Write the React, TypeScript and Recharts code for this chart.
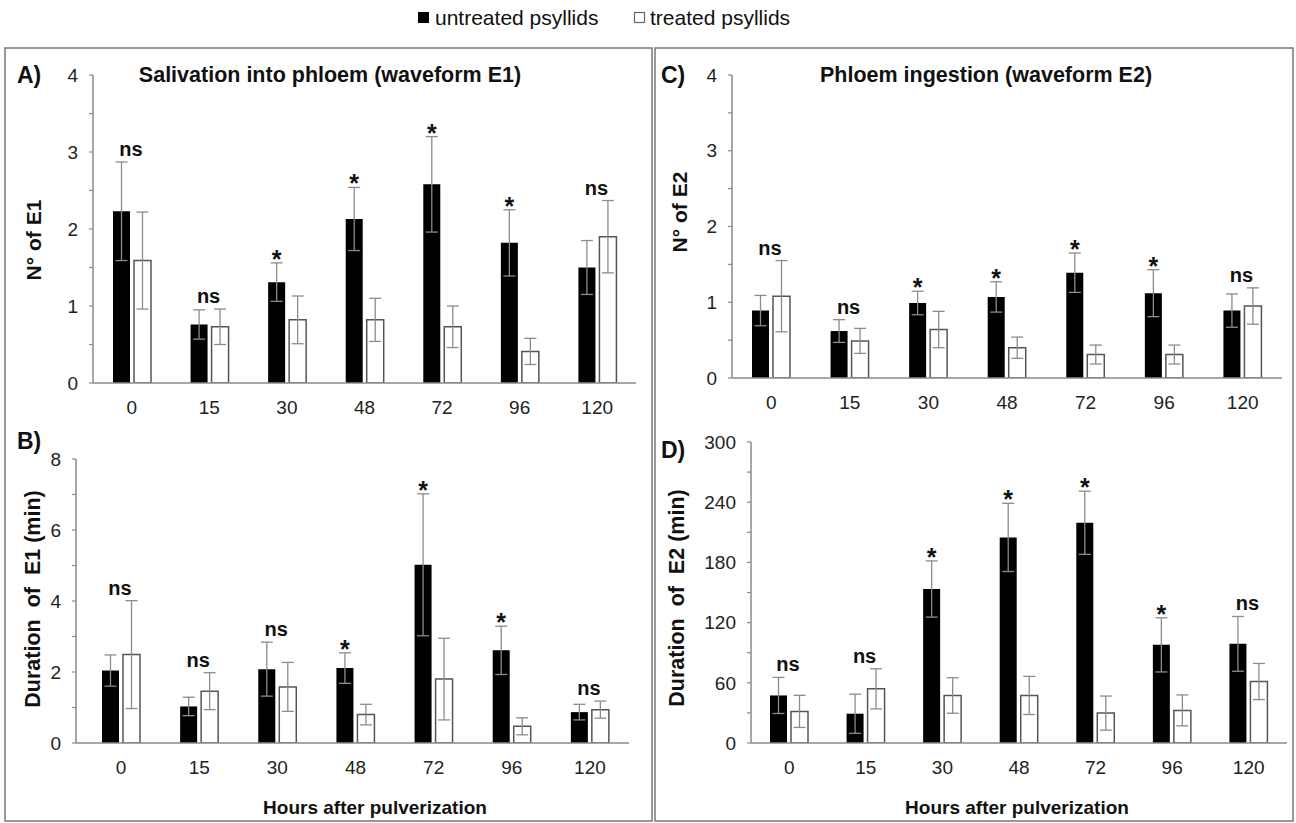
import { BarChart, Bar, XAxis, YAxis, ErrorBar, LabelList } from 'recharts';

const hours = ['0', '15', '30', '48', '72', '96', '120'];
const seriesNames = ['untreated psyllids', 'treated psyllids'];

// A) number of E1 events
const e1CountUntreated = [2.23, 0.76, 1.31, 2.13, 2.58, 1.82, 1.5];
const e1CountUntreatedErr = [0.64, 0.19, 0.25, 0.41, 0.62, 0.43, 0.35];
const e1CountTreated = [1.59, 0.73, 0.82, 0.82, 0.73, 0.41, 1.9];
const e1CountTreatedErr = [0.63, 0.23, 0.31, 0.28, 0.27, 0.17, 0.47];
const e1CountSig = ['ns', 'ns', '*', '*', '*', '*', 'ns'];

// B) duration of E1 (min)
const e1DurUntreated = [2.04, 1.03, 2.08, 2.11, 5.02, 2.61, 0.87];
const e1DurUntreatedErr = [0.44, 0.26, 0.76, 0.43, 2.0, 0.68, 0.22];
const e1DurTreated = [2.49, 1.46, 1.58, 0.8, 1.8, 0.47, 0.94];
const e1DurTreatedErr = [1.52, 0.52, 0.69, 0.29, 1.15, 0.24, 0.24];
const e1DurSig = ['ns', 'ns', 'ns', '*', '*', '*', 'ns'];

// C) number of E2 events
const e2CountUntreated = [0.89, 0.62, 0.99, 1.07, 1.39, 1.12, 0.89];
const e2CountUntreatedErr = [0.2, 0.15, 0.155, 0.2, 0.26, 0.31, 0.22];
const e2CountTreated = [1.08, 0.49, 0.64, 0.4, 0.31, 0.31, 0.95];
const e2CountTreatedErr = [0.47, 0.165, 0.24, 0.14, 0.125, 0.125, 0.24];
const e2CountSig = ['ns', 'ns', '*', '*', '*', '*', 'ns'];

// D) duration of E2 (min)
const e2DurUntreated = [47.4, 29.2, 153.5, 204.9, 219.5, 97.8, 98.8];
const e2DurUntreatedErr = [18, 19.5, 28, 34, 31.5, 27, 27.3];
const e2DurTreated = [31.5, 54, 47.4, 47.4, 29.8, 32.5, 61.3];
const e2DurTreatedErr = [16, 20, 17.7, 19, 17, 15.4, 18];
const e2DurSig = ['ns', 'ns', '*', '*', '*', '*', 'ns'];

const ticksHalf4 = [0, 0.5, 1, 1.5, 2, 2.5, 3, 3.5, 4];
const ticks8 = [0, 1, 2, 3, 4, 5, 6, 7, 8];
const ticks300 = [0, 30, 60, 90, 120, 150, 180, 210, 240, 270, 300];

const FONT = '"Liberation Sans", Arial, sans-serif';
const AXIS = '#8a8a8a';
const TEXT = '#222';
const BAR_SIZE = 17;
const BAR_GAP = 4;

type PanelProps = {
  left: number; top: number; width: number; height: number;
  margin: { top: number; right: number; bottom: number; left: number };
  padLeft?: number;
  untreated: number[]; untreatedErr: number[];
  treated: number[]; treatedErr: number[];
  sig: string[];
  domain: [number, number];
  ticks: number[];
  showTick: (v: number) => boolean;
};

function sigLabel(p: PanelProps) {
  return (props: any) => {
    const vb = props.viewBox || {};
    const x = Number(props.x ?? vb.x);
    const y = Number(props.y ?? vb.y);
    const w = Number(props.width ?? vb.width);
    const h = Number(props.height ?? vb.height);
    const i = props.index;
    const v = p.untreated[i];
    if (!v || !isFinite(h)) return null;
    const ppu = h / v;
    const base = y + h;
    const topU = base - (v + p.untreatedErr[i]) * ppu;
    const topT = base - (p.treated[i] + p.treatedErr[i]) * ppu;
    if (p.sig[i] === '*') {
      return (
        <text x={x + w / 2} y={topU + 5} textAnchor="middle" fontSize={25} fontWeight="bold" fill="#111" fontFamily={FONT}>*</text>
      );
    }
    return (
      <text x={x + w + BAR_GAP / 2 - 1} y={Math.min(topU, topT) - 6} textAnchor="middle" fontSize={20} fontWeight="bold" fill="#111" fontFamily={FONT}>ns</text>
    );
  };
}

function Panel(p: PanelProps) {
  const rows = hours.map((h, i) => ({
    hour: h,
    u: p.untreated[i], uErr: p.untreatedErr[i],
    t: p.treated[i], tErr: p.treatedErr[i],
  }));
  return (
    <div style={{ position: 'absolute', left: p.left, top: p.top }}>
      <BarChart width={p.width} height={p.height} data={rows} margin={p.margin}
        barSize={BAR_SIZE} barGap={BAR_GAP}>
        <XAxis dataKey="hour" tickLine={false} tickSize={0} tickMargin={18} height={30}
          padding={{ left: p.padLeft ?? 0, right: 0 }}
          axisLine={{ stroke: AXIS, strokeWidth: 1.5 }}
          tick={{ fill: TEXT, fontSize: 19, fontFamily: FONT }} />
        <YAxis width={60} domain={p.domain} ticks={p.ticks} interval={0} allowDataOverflow
          tickSize={4} tickMargin={11}
          axisLine={{ stroke: AXIS, strokeWidth: 1.5 }}
          tickLine={{ stroke: AXIS, strokeWidth: 1.2 }}
          tickFormatter={(v: number) => (p.showTick(v) ? String(v) : '')}
          tick={{ fill: TEXT, fontSize: 19, fontFamily: FONT }} />
        <Bar dataKey="u" name={seriesNames[0]} fill="#000" isAnimationActive={false}>
          <ErrorBar dataKey="uErr" width={6} stroke="#8c8c8c" strokeWidth={1.3} direction="y" />
          <LabelList dataKey="u" content={sigLabel(p)} />
        </Bar>
        <Bar dataKey="t" name={seriesNames[1]} fill="#fff" stroke="#555" strokeWidth={1.5} isAnimationActive={false}>
          <ErrorBar dataKey="tErr" width={6} stroke="#8c8c8c" strokeWidth={1.3} direction="y" />
        </Bar>
      </BarChart>
    </div>
  );
}

const txt = { fontFamily: FONT, fill: '#111' } as const;

export default function App() {
  return (
    <div style={{ position: 'absolute', left: 0, top: 0, width: 1296, height: 823, background: '#fff', overflow: 'hidden' }}>
      <Panel left={0} top={40} width={650} height={390}
        margin={{ top: 35, right: 14, bottom: 17, left: 33 }}
        untreated={e1CountUntreated} untreatedErr={e1CountUntreatedErr}
        treated={e1CountTreated} treatedErr={e1CountTreatedErr} sig={e1CountSig}
        domain={[0, 4]} ticks={ticksHalf4} showTick={v => Number.isInteger(v)} />
      <Panel left={0} top={430} width={650} height={350}
        margin={{ top: 29, right: 21, bottom: 7, left: 16 }} padLeft={6}
        untreated={e1DurUntreated} untreatedErr={e1DurUntreatedErr}
        treated={e1DurTreated} treatedErr={e1DurTreatedErr} sig={e1DurSig}
        domain={[0, 8]} ticks={ticks8} showTick={v => v % 2 === 0} />
      <Panel left={650} top={40} width={646} height={390}
        margin={{ top: 35, right: 14, bottom: 22, left: 22 }}
        untreated={e2CountUntreated} untreatedErr={e2CountUntreatedErr}
        treated={e2CountTreated} treatedErr={e2CountTreatedErr} sig={e2CountSig}
        domain={[0, 4]} ticks={ticksHalf4} showTick={v => Number.isInteger(v)} />
      <Panel left={650} top={430} width={646} height={350}
        margin={{ top: 12, right: 9, bottom: 7, left: 41 }}
        untreated={e2DurUntreated} untreatedErr={e2DurUntreatedErr}
        treated={e2DurTreated} treatedErr={e2DurTreatedErr} sig={e2DurSig}
        domain={[0, 300]} ticks={ticks300} showTick={v => v % 60 === 0} />

      <svg width={1296} height={823} style={{ position: 'absolute', left: 0, top: 0, pointerEvents: 'none' }}>
        {/* panel frames */}
        <rect x={5} y={48} width={647} height={773} fill="none" stroke="#777" strokeWidth={1.5} />
        <rect x={655} y={48} width={638} height={773} fill="none" stroke="#777" strokeWidth={1.5} />

        {/* legend */}
        <rect x={418} y={12} width={11} height={11} fill="#000" />
        <text x={435} y={25} fontSize={21} {...txt}>{seriesNames[0]}</text>
        <rect x={634.5} y={12.5} width={10} height={10} fill="#fff" stroke="#666" strokeWidth={1.2} />
        <text x={650} y={25} fontSize={21} {...txt}>{seriesNames[1]}</text>

        {/* panel letters */}
        <text x={17} y={83} fontSize={23} fontWeight="bold" {...txt}>A)</text>
        <text x={17} y={449} fontSize={23} fontWeight="bold" {...txt}>B)</text>
        <text x={661} y={83} fontSize={23} fontWeight="bold" {...txt}>C)</text>
        <text x={661} y={458} fontSize={23} fontWeight="bold" {...txt}>D)</text>

        {/* titles */}
        <text x={330} y={82} textAnchor="middle" fontSize={21.5} fontWeight="bold" {...txt}>Salivation into phloem (waveform E1)</text>
        <text x={986} y={82} textAnchor="middle" fontSize={21.5} fontWeight="bold" {...txt}>Phloem ingestion (waveform E2)</text>

        {/* y axis titles */}
        <text x={33} y={240} transform="rotate(-90 33 240)" textAnchor="middle" dominantBaseline="central" fontSize={21} fontWeight="bold" {...txt}>N° of E1</text>
        <text x={33} y={599} transform="rotate(-90 33 599)" textAnchor="middle" dominantBaseline="central" fontSize={21.5} fontWeight="bold" {...txt} style={{ whiteSpace: 'pre' }}>{'Duration  of  E1 (min)'}</text>
        <text x={679} y={212} transform="rotate(-90 679 212)" textAnchor="middle" dominantBaseline="central" fontSize={21} fontWeight="bold" {...txt}>N° of E2</text>
        <text x={677} y={598} transform="rotate(-90 677 598)" textAnchor="middle" dominantBaseline="central" fontSize={21.5} fontWeight="bold" {...txt} style={{ whiteSpace: 'pre' }}>{'Duration  of  E2 (min)'}</text>

        {/* x axis titles */}
        <text x={375} y={814} textAnchor="middle" fontSize={19} fontWeight="bold" {...txt}>Hours after pulverization</text>
        <text x={1017} y={814} textAnchor="middle" fontSize={19} fontWeight="bold" {...txt}>Hours after pulverization</text>
      </svg>
    </div>
  );
}
